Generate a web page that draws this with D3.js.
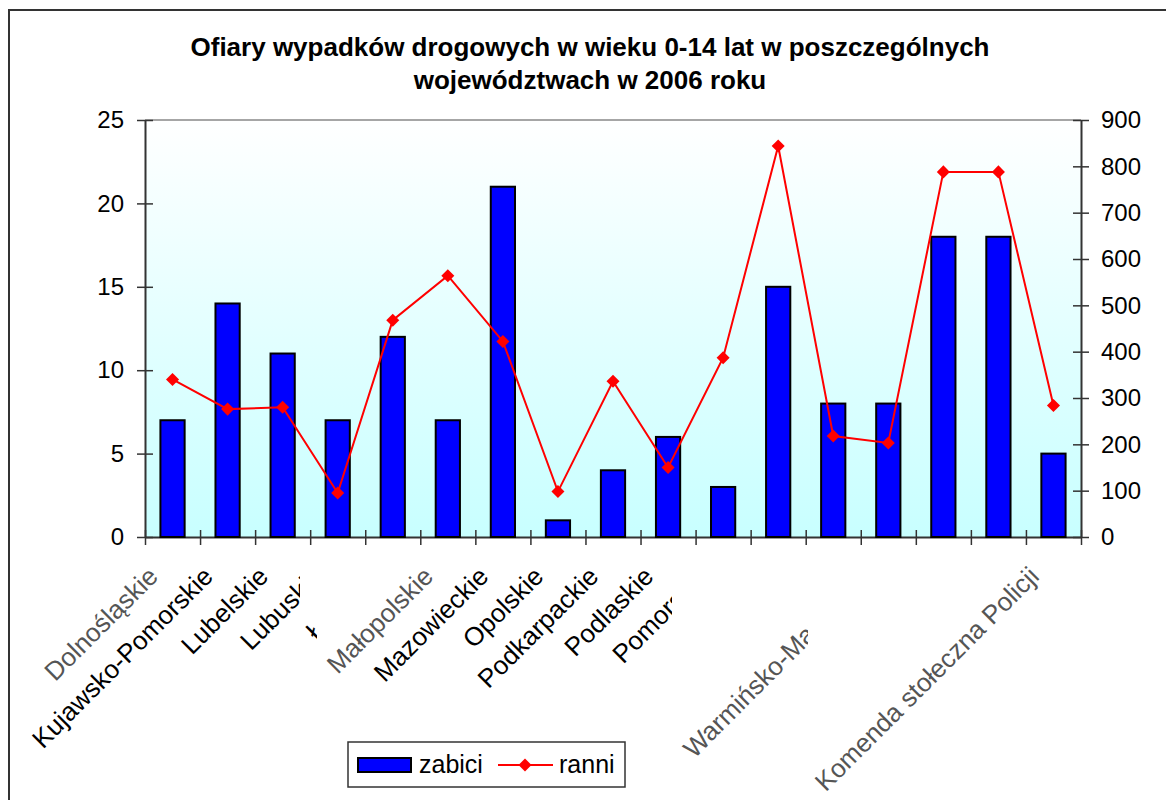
<!DOCTYPE html>
<html>
<head>
<meta charset="utf-8">
<script src="https://cdn.jsdelivr.net/npm/d3@7"></script>
<style>
  body { margin: 0; background: #fff; }
  text { font-family: Arial, "Liberation Sans", sans-serif; }
</style>
</head>
<body>
<div id="chart"></div>
<script>
// data
var categories = ["Dolnośląskie", "Kujawsko-Pomorskie", "Lubelskie", "Lubuskie", "Łódzkie",
  "Małopolskie", "Mazowieckie", "Opolskie", "Podkarpackie", "Podlaskie", "Pomorskie",
  "Śląskie", "Świętokrzyskie", "Warmińsko-Mazurskie", "Wielkopolskie", "Zachodniopomorskie",
  "Komenda stołeczna Policji"];
var zabici = [7, 14, 11, 7, 12, 7, 21, 1, 4, 6, 3, 15, 8, 8, 18, 18, 5];
var ranni = [340, 276, 280, 95, 468, 564, 422, 98, 336, 150, 387, 844, 218, 203, 788, 788, 284];
var leftTicks = [0, 5, 10, 15, 20, 25];
var rightTicks = [0, 100, 200, 300, 400, 500, 600, 700, 800, 900];
var titleLines = ["Ofiary wypadków drogowych w wieku 0-14 lat w poszczególnych",
  "województwach w 2006 roku"];
var seriesNames = ["zabici", "ranni"];

var svgWidth = 1166;
var svgHeight = 800;

var margin = {
    top: 120,
    right: 85,
    bottom: 263,
    left: 145
};

var width = svgWidth - margin.left - margin.right;
var height = svgHeight - margin.top - margin.bottom;

var svg = d3.select("#chart")
    .append("svg")
    .attr("width", svgWidth)
    .attr("height", svgHeight);

// outer frame of the chart (only top and left edges visible)
svg.append("path")
    .attr("d", "M9,800V10H1166")
    .attr("fill", "none")
    .attr("stroke", "#333")
    .attr("stroke-width", 2);

// title
svg.append("g").selectAll("text")
    .data(titleLines)
    .enter()
    .append("text")
    .attr("x", 590)
    .attr("y", (d, i) => 56 + i * 33)
    .attr("text-anchor", "middle")
    .style("font-size", "26px")
    .style("font-weight", "bold")
    .text(d => d);

// plot background gradient
var grad = svg.append("defs").append("linearGradient")
    .attr("id", "bg")
    .attr("x1", 0).attr("y1", 0).attr("x2", 0).attr("y2", 1);
grad.append("stop").attr("offset", "0%").attr("stop-color", "#ffffff");
grad.append("stop").attr("offset", "100%").attr("stop-color", "#c8ffff");

var chartGroup = svg.append("g")
    .attr("transform", `translate(${margin.left}, ${margin.top})`);

chartGroup.append("rect")
    .attr("width", width)
    .attr("height", height)
    .attr("fill", "url(#bg)");

chartGroup.append("line")
    .attr("x1", 0).attr("x2", width)
    .attr("y1", 0).attr("y2", 0)
    .attr("stroke", "#888")
    .attr("stroke-width", 1.5);

// scales
var xBand = d3.scaleBand()
    .domain(categories)
    .range([0, width])
    .paddingInner(0.56)
    .paddingOuter(0.28);

var xEdge = d3.scaleLinear()
    .domain([0, categories.length])
    .range([0, width]);

var yLeft = d3.scaleLinear()
    .domain([0, 25])
    .range([height, 0]);

var yRight = d3.scaleLinear()
    .domain([0, 900])
    .range([height, 0]);

// axes
var leftAxis = d3.axisLeft(yLeft).tickValues(leftTicks).tickSize(16).tickSizeOuter(0).tickPadding(5);
var rightAxis = d3.axisRight(yRight).tickValues(rightTicks).tickSize(16).tickSizeOuter(0).tickPadding(4);
var bottomAxis = d3.axisBottom(xEdge).tickValues(d3.range(categories.length + 1))
    .tickFormat("").tickSize(15).tickSizeOuter(0);

var gl = chartGroup.append("g").call(leftAxis);
gl.selectAll(".tick line").attr("x1", 8).attr("x2", -8);

var gr = chartGroup.append("g")
    .attr("transform", `translate(${width}, 0)`)
    .call(rightAxis);
gr.selectAll(".tick line").attr("x1", -8).attr("x2", 8);

var gb = chartGroup.append("g")
    .attr("transform", `translate(0, ${height})`)
    .call(bottomAxis);
gb.selectAll(".tick line").attr("y1", -7).attr("y2", 8);

[gl, gr, gb].forEach(function(g) {
    g.selectAll(".domain").attr("stroke", "#333").attr("stroke-width", 2);
    g.selectAll(".tick line").attr("stroke", "#333").attr("stroke-width", 1.5);
    g.selectAll(".tick text").style("font-size", "24px").attr("fill", "#000");
});

// bars
chartGroup.selectAll(".bar")
    .data(zabici)
    .enter()
    .append("rect")
    .attr("class", "bar")
    .attr("x", (d, i) => xBand(categories[i]))
    .attr("y", d => yLeft(d))
    .attr("width", xBand.bandwidth())
    .attr("height", d => height - yLeft(d))
    .attr("fill", "#0000ff")
    .attr("stroke", "#000")
    .attr("stroke-width", 2);

// line with diamond markers
var line = d3.line()
    .x((d, i) => xBand(categories[i]) + xBand.bandwidth() / 2)
    .y(d => yRight(d));

chartGroup.append("path")
    .datum(ranni)
    .attr("d", line)
    .attr("fill", "none")
    .attr("stroke", "#ff0000")
    .attr("stroke-width", 2);

var diamond = d3.symbol().type(d3.symbolSquare).size(85);
chartGroup.selectAll(".marker")
    .data(ranni)
    .enter()
    .append("path")
    .attr("class", "marker")
    .attr("d", diamond)
    .attr("transform", (d, i) => `translate(${xBand(categories[i]) + xBand.bandwidth() / 2}, ${yRight(d)}) rotate(45)`)
    .attr("fill", "#ff0000");

// category labels, rotated; some are cut off or hidden as in the original export
var cutRight = { 3: 300, 4: 317, 10: 672, 13: 808 };
var hidden = { 11: 1, 12: 1, 14: 1, 15: 1 };
var faint = { 0: 1, 5: 1, 13: 1, 16: 1 };
var defs = svg.select("defs");
var labelGroup = svg.append("g");
categories.forEach(function(c, i) {
    if (hidden[i]) return;
    var g = labelGroup.append("g");
    if (cutRight[i]) {
        defs.append("clipPath").attr("id", "cut" + i)
            .append("rect")
            .attr("x", 0).attr("y", 540)
            .attr("width", cutRight[i]).attr("height", 260);
        g.attr("clip-path", `url(#cut${i})`);
    }
    var lx = margin.left + xBand(c) + xBand.bandwidth() / 2 - 13;
    var ly = margin.top + height + 41;
    g.append("text")
        .attr("transform", `translate(${lx}, ${ly}) rotate(-45)`)
        .attr("text-anchor", "end")
        .style("font-size", "26px")
        .attr("fill", faint[i] ? "#555" : "#000")
        .text(c);
});

// legend
var legend = svg.append("g").attr("transform", "translate(348, 742)");
legend.append("rect")
    .attr("width", 277).attr("height", 45)
    .attr("fill", "#fff")
    .attr("stroke", "#333")
    .attr("stroke-width", 1.5);
legend.append("rect")
    .attr("x", 10).attr("y", 16)
    .attr("width", 53).attr("height", 14)
    .attr("fill", "#0000ff")
    .attr("stroke", "#000")
    .attr("stroke-width", 2);
legend.append("text")
    .attr("x", 71).attr("y", 31)
    .style("font-size", "25px")
    .text(seriesNames[0]);
legend.append("line")
    .attr("x1", 150).attr("x2", 205)
    .attr("y1", 23).attr("y2", 23)
    .attr("stroke", "#ff0000")
    .attr("stroke-width", 2);
legend.append("path")
    .attr("d", diamond)
    .attr("transform", "translate(177, 23) rotate(45)")
    .attr("fill", "#ff0000");
legend.append("text")
    .attr("x", 211).attr("y", 31)
    .style("font-size", "25px")
    .text(seriesNames[1]);
</script>
</body>
</html>
